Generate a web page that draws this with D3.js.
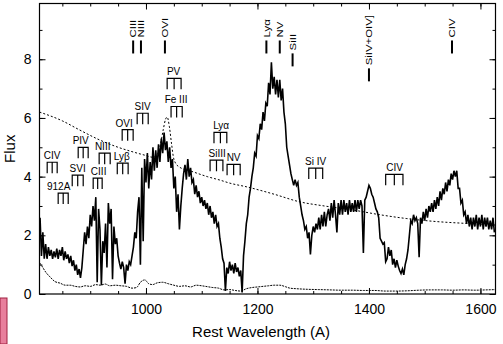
<!DOCTYPE html>
<html><head><meta charset="utf-8">
<script src="https://cdn.jsdelivr.net/npm/d3@7"></script>
<style>
body{margin:0;background:#fff}
svg{display:block}
text{font-family:"Liberation Sans",Arial,Helvetica,sans-serif;fill:#000}
</style>
</head><body>
<svg id="chart" width="503" height="344"></svg>
<script>
// Observed spectrum, sampled on a regular wavelength grid (Angstrom)
const lambdaStart = 810, lambdaStep = 2.5;
const flux = [
2.6,1.3,2.1,1.2,1.7,1.2,1.6,1.3,1.5,1.2,
1.45,1.25,1.55,1.2,1.5,1.3,1.6,1.15,1.45,1.2,
1.35,1.05,1.3,0.95,1.15,0.8,1.0,0.65,0.85,0.55,
0.9,1.5,2.1,1.7,2.3,1.9,2.7,2.3,3.0,2.5,
3.3,0.4,2.9,2.2,0.3,1.8,1.4,2.4,0.9,3.1,
2.4,2.9,0.5,2.3,1.7,1.9,1.3,1.05,0.85,1.1,
0.9,0.35,1.0,0.8,1.1,1.0,1.3,1.6,2.1,1.9,
2.8,3.3,1.0,4.3,1.8,4.6,3.8,4.8,3.6,4.5,
3.9,5.0,4.2,4.9,4.3,5.1,4.5,5.3,4.8,5.5,
4.9,5.2,4.5,5.0,4.3,4.6,3.6,4.0,2.8,3.4,
2.2,3.0,3.6,4.1,4.4,3.9,4.6,4.0,4.3,3.8,
3.9,3.4,3.7,3.3,3.5,3.1,3.3,3.0,3.2,2.9,
3.1,2.7,3.0,2.6,2.8,2.4,2.7,2.3,2.4,1.9,
1.6,1.2,1.05,0.1,0.9,0.7,1.1,0.8,1.0,0.7,
1.05,0.75,0.9,0.6,0.8,0.05,1.3,1.8,2.4,2.7,
3.3,3.6,4.0,4.3,4.8,4.7,5.4,5.3,5.8,5.6,
6.2,5.9,6.5,6.4,7.2,6.8,7.9,7.0,7.4,6.8,
7.3,6.7,7.3,6.6,7.0,6.2,5.8,5.0,4.7,4.4,
4.1,3.9,3.7,3.9,3.7,3.8,3.3,3.0,2.7,2.5,
2.2,2.3,1.9,2.1,1.35,2.0,2.3,2.1,2.4,2.2,
2.6,2.2,2.7,2.3,2.8,2.3,2.7,2.9,2.5,3.1,
2.6,3.2,2.7,2.1,3.1,2.7,3.2,2.7,3.2,2.8,
3.1,2.7,3.2,2.8,3.1,2.8,3.2,2.8,3.2,2.9,
3.2,3.0,1.4,3.2,3.3,3.5,3.7,3.6,3.4,3.3,
3.1,2.9,2.8,2.6,1.9,1.8,1.7,1.75,1.1,1.2,
1.6,1.3,1.5,1.0,1.2,0.9,1.15,0.95,0.8,0.7,
0.85,0.65,1.0,1.2,1.5,2.0,2.5,2.4,2.7,2.5,
2.6,2.4,1.25,2.6,2.4,2.8,2.5,2.9,2.6,3.0,
2.8,3.1,2.8,3.2,2.9,3.3,3.0,3.5,3.2,3.6,
3.4,3.8,3.5,3.9,3.7,4.1,3.9,4.2,4.0,4.2,
3.6,3.6,3.1,3.2,2.7,2.8,2.4,2.7,2.3,2.6,
2.2,2.6,2.3,2.7,2.2,2.6,2.3,2.7,2.2,2.6,
2.3,2.6,2.2,2.5,2.2,2.6,2.1
];

// Fitted continuum (power law plus O VI emission bump)
const contLambda = [809,850,880,918,950,977,1000,1012,1020,1026,1031,1035,1038,1042,1046,1050,1058,1085,1110,1133,1150,1181,1230,1276,1320,1372,1420,1468,1520,1570,1627];
const contFlux   = [6.2,5.9,5.6,5.24,5.0,4.84,4.72,4.66,4.75,5.1,5.6,5.95,6.03,5.7,5.1,4.6,4.35,4.16,4.0,3.88,3.78,3.65,3.4,3.14,3.0,2.86,2.7,2.57,2.47,2.41,2.35];

// 1-sigma error spectrum
const errLambda = [810,815,820,828,837,846,855,864,873,882,891,900,910,918,927,935,945,955,965,975,983,990,998,1005,1012,1020,1030,1040,1050,1060,1070,1080,1090,1100,1110,1120,1130,1140,1150,1160,1170,1180,1190,1200,1210,1220,1230,1240,1250,1258,1270,1290,1310,1330,1350,1370,1390,1410,1430,1450,1470,1490,1510,1530,1550,1570,1590,1610,1627];
const errFlux   = [1.05,0.9,0.75,0.58,0.42,0.37,0.3,0.3,0.26,0.24,0.28,0.26,0.32,0.3,0.34,0.28,0.3,0.28,0.26,0.2,0.22,0.4,0.48,0.35,0.32,0.38,0.4,0.35,0.3,0.26,0.28,0.24,0.3,0.28,0.25,0.22,0.2,0.14,0.15,0.12,0.1,0.18,0.22,0.24,0.26,0.28,0.3,0.3,0.25,0.2,0.18,0.16,0.15,0.14,0.13,0.13,0.12,0.12,0.1,0.1,0.11,0.13,0.14,0.14,0.13,0.14,0.13,0.14,0.15];

// Emission lines marked along the top
const emisNames  = ["CIII","NIII","OVI","Lyα","NV","SiII","SiIV+OIV]","CIV"];
const emisLambda = [977,991,1034,1216,1240,1263,1400,1549];
const emisLevel  = [8.64,8.64,8.64,8.64,8.64,8.2,7.69,8.64];

// Absorption systems: label, bracket edges (Angstrom), bracket level (flux), label centre
const absNames   = ["CIV","912A","SVI","PIV","CIII","NIII","Lyβ","OVI","SIV","PV","Fe III","Lyα","SiIII","NV","Si IV","CIV"];
const absLo      = [822.8,842.5,867.7,878.4,905.3,916.0,948.5,957.3,984.2,1038,1045,1122,1115,1145.5,1292,1430];
const absHi      = [840.7,860.5,887.4,896.3,921.4,935.8,968.0,977.0,1004,1063,1065,1145,1138,1169,1317,1461];
const absLevel   = [4.49,3.44,4.05,5.0,3.95,4.8,4.46,5.6,6.16,7.35,6.39,5.51,4.56,4.42,4.29,4.08];
const absLabelAt = [831.8,843.4,877.5,882.9,915.1,922.3,956.4,960.8,994,1049.6,1054,1134.8,1127.6,1157.2,1304.2,1446];

const xMajor = [1000,1200,1400,1600];
const yMajor = [0,2,4,6,8];

const W = 503, H = 344;
const m = {left:39.5, right:7.5, top:3.5, bottom:50};
const svg = d3.select("#chart");

const x = d3.scaleLinear().domain([809,1627]).range([m.left, W-m.right]);
const y = d3.scaleLinear().domain([0,9.9]).range([H-m.bottom, m.top]);

const spec = flux.map((f,i)=>({l:lambdaStart+i*lambdaStep, f}));
const cont = contLambda.map((l,i)=>({l, f:contFlux[i]}));
const err  = errLambda.map((l,i)=>({l, f:errFlux[i]}));

const line = d3.line().x(d=>x(d.l)).y(d=>y(d.f));
const curve = d3.line().x(d=>x(d.l)).y(d=>y(d.f)).curve(d3.curveMonotoneX);

const pBottom = H-m.bottom, pTop = m.top, pLeft = m.left, pRight = W-m.right;

svg.append("clipPath").attr("id","clip").append("rect")
  .attr("x",pLeft).attr("y",pTop).attr("width",pRight-pLeft).attr("height",pBottom-pTop);

const g = svg.append("g").attr("clip-path","url(#clip)");
g.append("path").datum(err).attr("d",curve)
  .attr("fill","none").attr("stroke","#000").attr("stroke-width",1).attr("stroke-dasharray","2,1");
g.append("path").datum(cont).attr("d",curve)
  .attr("fill","none").attr("stroke","#000").attr("stroke-width",1).attr("stroke-dasharray","2,2");
g.append("path").datum(spec).attr("d",line)
  .attr("fill","none").attr("stroke","#000").attr("stroke-width",1.6).attr("stroke-linejoin","miter");

// axes with inward ticks on all four sides
const xMinor = d3.range(850,1627,50);
const yMinor = d3.range(0,10,1);
function axisStyle(sel){ sel.select(".domain").remove(); sel.selectAll("line").attr("stroke","#000"); }

svg.append("g").attr("transform",`translate(0,${pBottom})`)
  .call(d3.axisBottom(x).tickValues(xMinor).tickSize(-3).tickFormat("")).call(axisStyle);
svg.append("g").attr("transform",`translate(0,${pBottom})`)
  .call(d3.axisBottom(x).tickValues(xMajor).tickSize(-6).tickPadding(10).tickFormat(d3.format("d")))
  .call(axisStyle).selectAll("text").attr("font-size",14);
svg.append("g").attr("transform",`translate(0,${pTop})`)
  .call(d3.axisTop(x).tickValues(xMinor).tickSize(-3).tickFormat("")).call(axisStyle);
svg.append("g").attr("transform",`translate(0,${pTop})`)
  .call(d3.axisTop(x).tickValues(xMajor).tickSize(-6).tickFormat("")).call(axisStyle);

svg.append("g").attr("transform",`translate(${pLeft},0)`)
  .call(d3.axisLeft(y).tickValues(yMinor).tickSize(-3).tickFormat("")).call(axisStyle);
svg.append("g").attr("transform",`translate(${pLeft},0)`)
  .call(d3.axisLeft(y).tickValues(yMajor).tickSize(-6).tickPadding(8).tickFormat(d3.format("d")))
  .call(axisStyle).selectAll("text").attr("font-size",14);
svg.append("g").attr("transform",`translate(${pRight},0)`)
  .call(d3.axisRight(y).tickValues(yMinor).tickSize(-3).tickFormat("")).call(axisStyle);
svg.append("g").attr("transform",`translate(${pRight},0)`)
  .call(d3.axisRight(y).tickValues(yMajor).tickSize(-6).tickFormat("")).call(axisStyle);

svg.append("rect").attr("x",pLeft).attr("y",pTop).attr("width",pRight-pLeft).attr("height",pBottom-pTop)
  .attr("fill","none").attr("stroke","#000").attr("stroke-width",1.2);

// axis titles
svg.append("text").attr("x",261).attr("y",337).attr("text-anchor","middle")
  .attr("font-size",15).text("Rest Wavelength (A)");
svg.append("text").attr("transform",`translate(15,${(pTop+pBottom)/2}) rotate(-90)`)
  .attr("text-anchor","middle").attr("font-size",15).text("Flux");

// emission line markers: short bar with vertical label above (stretched along its length)
const em = svg.append("g");
emisNames.forEach((n,i)=>{
  const cx = x(emisLambda[i]), yt = y(emisLevel[i]);
  em.append("line").attr("x1",cx).attr("x2",cx).attr("y1",yt).attr("y2",yt+13)
    .attr("stroke","#000").attr("stroke-width",2);
  em.append("text").attr("transform",`translate(${cx},${yt-3}) rotate(-90) scale(1.2,1)`)
    .attr("dy","0.34em").attr("font-size",9.5).text(n);
});

// absorption system brackets with three prongs
const ab = svg.append("g");
absNames.forEach((n,i)=>{
  const x0 = x(absLo[i]), x1 = x(absHi[i]), xm = (x0+x1)/2, yt = y(absLevel[i]);
  ab.append("path")
    .attr("d",`M${x0},${yt+11}V${yt}H${x1}V${yt+11}M${xm},${yt}V${yt+11}`)
    .attr("fill","none").attr("stroke","#000").attr("stroke-width",1.2);
  ab.append("text").attr("x",x(absLabelAt[i])).attr("y",yt-3).attr("text-anchor","middle")
    .attr("font-size",10).text(n);
});

// small pink tab at the lower-left corner
svg.append("rect").attr("x",0).attr("y",298).attr("width",7).attr("height",46)
  .attr("fill","#e87f9c").attr("stroke","#a02040").attr("stroke-width",1);
</script>
</body></html>
